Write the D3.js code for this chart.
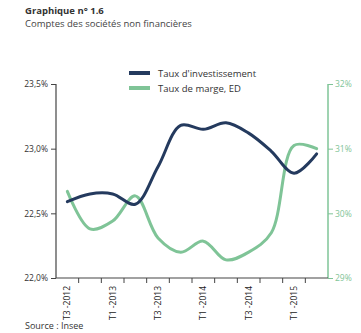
<!DOCTYPE html>
<html>
<head>
<meta charset="utf-8">
<script src="https://cdn.jsdelivr.net/npm/d3@7"></script>
<style>
  html, body { margin: 0; padding: 0; background: #fff; }
  svg { display: block; font-family: "Open Sans", "DejaVu Sans", sans-serif; }
</style>
</head>
<body>
<svg id="chart" width="361" height="333"></svg>
<script>
// Quarters (T = trimestre) and the two series
const quarters = ["T3 -2012", "T4 -2012", "T1 -2013", "T2 -2013", "T3 -2013", "T4 -2013",
                  "T1 -2014", "T2 -2014", "T3 -2014", "T4 -2014", "T1 -2015", "T2 -2015"];
const shownLabels = ["T3 -2012", "T1 -2013", "T3 -2013", "T1 -2014", "T3 -2014", "T1 -2015"];
// Taux d'investissement (%), left axis
const investissement = [22.59, 22.65, 22.65, 22.57, 22.86, 23.18, 23.15, 23.20, 23.12, 22.98, 22.81, 22.96];
// Taux de marge, ED (%), right axis
const marge = [30.34, 29.76, 29.88, 30.27, 29.62, 29.40, 29.57, 29.28, 29.40, 29.70, 31.05, 31.00];
const leftTicks = [22.0, 22.5, 23.0, 23.5];
const rightTicks = [29, 30, 31, 32];
const seriesNames = ["Taux d'investissement", "Taux de marge, ED"];

const navy = "#243a5e";
const green = "#7fc497";
const axisGrey = "#444";

const svg = d3.select("#chart");
const plotLeft = 56, plotRight = 328, plotTop = 84, plotBottom = 278;

const x = d3.scaleBand().domain(quarters).range([plotLeft, plotRight]);
const yL = d3.scaleLinear().domain([22, 23.5]).range([plotBottom, plotTop]);
const yR = d3.scaleLinear().domain([29, 32]).range([plotBottom, plotTop]);

// Title block
svg.append("text").attr("x", 25).attr("y", 14)
  .attr("font-size", 9.5).attr("font-weight", 700).attr("fill", "#333")
  .text("Graphique n° 1.6");
svg.append("text").attr("x", 25).attr("y", 27)
  .attr("font-size", 9.5).attr("fill", "#444")
  .text("Comptes des sociétés non financières");

// Left axis
const fmtL = d => d3.format(".1f")(d).replace(".", ",") + "%";
const gL = svg.append("g").attr("transform", `translate(${plotLeft},0)`)
  .call(d3.axisLeft(yL).tickValues(leftTicks).tickFormat(fmtL).tickSize(5).tickPadding(3));
gL.select(".domain").attr("stroke", axisGrey).attr("stroke-width", 1.2).attr("d", `M0,${plotTop}V${plotBottom}`);
gL.selectAll(".tick line").attr("stroke", axisGrey);
gL.selectAll(".tick text").attr("fill", "#333").attr("font-size", 8.5)
  .attr("font-family", "\"Open Sans\", sans-serif");

// Right axis
const gR = svg.append("g").attr("transform", `translate(${plotRight},0)`)
  .call(d3.axisRight(yR).tickValues(rightTicks).tickFormat(d => d + "%").tickSize(5).tickPadding(2));
gR.select(".domain").attr("stroke", green).attr("stroke-width", 1.5).attr("d", `M0,${plotTop}V${plotBottom}`);
gR.selectAll(".tick line").attr("stroke", green);
gR.selectAll(".tick text").attr("fill", green).attr("font-size", 8.5)
  .attr("font-family", "\"Open Sans\", sans-serif");

// Bottom axis: labels at band centres, ticks at band boundaries
const gB = svg.append("g").attr("transform", `translate(0,${plotBottom})`)
  .call(d3.axisBottom(x).tickSize(0).tickFormat(d => shownLabels.includes(d) ? d : ""));
gB.select(".domain").attr("stroke", axisGrey).attr("stroke-width", 1.2)
  .attr("d", `M${plotLeft},0H${plotRight}`);
gB.selectAll(".tick text")
  .attr("fill", "#222").attr("font-size", 8.5)
  .attr("font-family", "\"Open Sans\", sans-serif")
  .attr("transform", "rotate(-90)")
  .attr("text-anchor", "end")
  .attr("x", -8).attr("y", 0).attr("dy", "0.35em");

const boundaries = quarters.map(q => x(q)).concat([x(quarters[quarters.length - 1]) + x.bandwidth()]);
svg.append("g").selectAll("line").data(boundaries.slice(1, -1)).join("line")
  .attr("x1", d => d).attr("x2", d => d)
  .attr("y1", plotBottom).attr("y2", plotBottom + 5)
  .attr("stroke", axisGrey).attr("stroke-width", 1);

// Series lines
const cx = q => x(q) + x.bandwidth() / 2;
const lineL = d3.line().x((d, i) => cx(quarters[i])).y(d => yL(d)).curve(d3.curveCatmullRom.alpha(0.5));
const lineR = d3.line().x((d, i) => cx(quarters[i])).y(d => yR(d)).curve(d3.curveCatmullRom.alpha(0.5));

svg.append("path").datum(marge).attr("d", lineR)
  .attr("fill", "none").attr("stroke", green).attr("stroke-width", 3).attr("stroke-linecap", "round");
svg.append("path").datum(investissement).attr("d", lineL)
  .attr("fill", "none").attr("stroke", navy).attr("stroke-width", 3).attr("stroke-linecap", "round");

// Legend
const legend = svg.append("g").attr("transform", "translate(129,73)");
[navy, green].forEach((c, i) => {
  legend.append("line").attr("x1", 0).attr("x2", 21).attr("y1", i * 15).attr("y2", i * 15)
    .attr("stroke", c).attr("stroke-width", 4);
  legend.append("text").attr("x", 29).attr("y", i * 15 + 3.5)
    .attr("font-size", 9.5).attr("fill", "#333").text(seriesNames[i]);
});

// Source
svg.append("text").attr("x", 25).attr("y", 329)
  .attr("font-size", 9).attr("fill", "#333").text("Source : Insee");
</script>
</body>
</html>
